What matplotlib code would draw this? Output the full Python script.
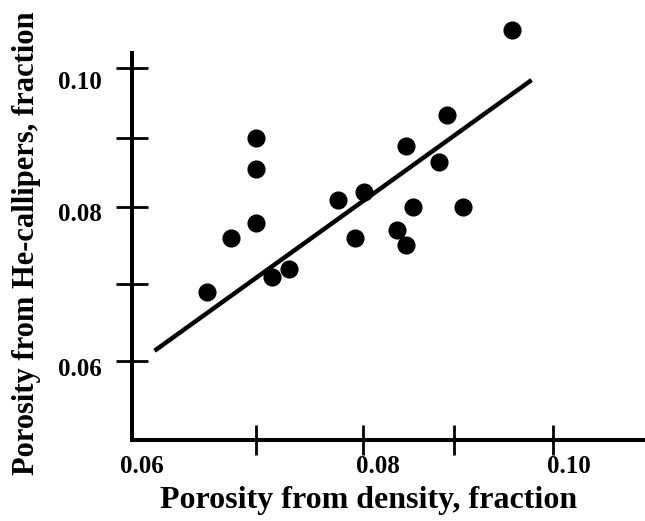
import matplotlib
matplotlib.use("Agg")
import matplotlib.pyplot as plt

plt.rcParams["font.family"] = ["Liberation Serif", "DejaVu Serif"]
plt.rcParams["font.weight"] = "bold"

# points
dens = [0.0661, 0.0684, 0.0707, 0.0707, 0.0707, 0.0722, 0.0738, 0.0784, 0.0808,
        0.0800, 0.0839, 0.0847, 0.0847, 0.0854, 0.0878, 0.0886, 0.0901, 0.0947]
he = [0.0694, 0.0768, 0.0789, 0.0862, 0.0905, 0.0715, 0.0726, 0.0820, 0.0831,
      0.0768, 0.0779, 0.0759, 0.0894, 0.0810, 0.0872, 0.0936, 0.0810, 0.1052]

# fitted line end points
fit_x = [0.0612, 0.0965]
fit_y = [0.0614, 0.0984]

# the drawing is hand made: tick marks and tick labels do not line up
xmarks = [0.0707, 0.0807, 0.0892, 0.0985]
xlab_pos = [0.0600, 0.0821, 0.1000]
xlab = ["0.06", "0.08", "0.10"]
ymarks = [0.0600, 0.0705, 0.0810, 0.0905, 0.1000]
ylab_pos = [0.0592, 0.0804, 0.0984]
ylab = ["0.06", "0.08", "0.10"]

fig = plt.figure(figsize=(6.45, 5.21), dpi=100)
ax = fig.add_axes([0.2047, 0.1564, 0.7953, 0.7424])

ax.plot(fit_x, fit_y, color="black", lw=3.2, solid_capstyle="butt")
ax.scatter(dens, he, s=145, color="black", clip_on=False, zorder=3)

ax.set_xlim(0.05909, 0.10712)
ax.set_ylim(0.04927, 0.10213)

for s in ["top", "right"]:
    ax.spines[s].set_visible(False)
for s in ["left", "bottom"]:
    ax.spines[s].set_linewidth(2.9)

ax.set_xticks(xlab_pos, labels=xlab)
ax.set_xticks(xmarks, minor=True)
ax.set_yticks(ylab_pos, labels=ylab)
ax.set_yticks(ymarks, minor=True)

ax.tick_params(which="major", length=0, labelsize=18)
ax.tick_params(axis="x", which="major", pad=11)
ax.tick_params(axis="y", which="major", pad=22)
ax.tick_params(which="minor", direction="inout", width=2, color="black")
ax.tick_params(axis="x", which="minor", length=22)
ax.tick_params(axis="y", which="minor", length=23)

fig.text(369 / 645, 1 - 508 / 521, "Porosity from density, fraction",
         ha="center", va="baseline", fontsize=23, fontweight="bold")
fig.text(27 / 645, 1 - 243 / 521, "Porosity from He-callipers, fraction",
         ha="center", va="center", rotation=90, fontsize=22, fontweight="bold")

fig.savefig("out.png", dpi=100)
